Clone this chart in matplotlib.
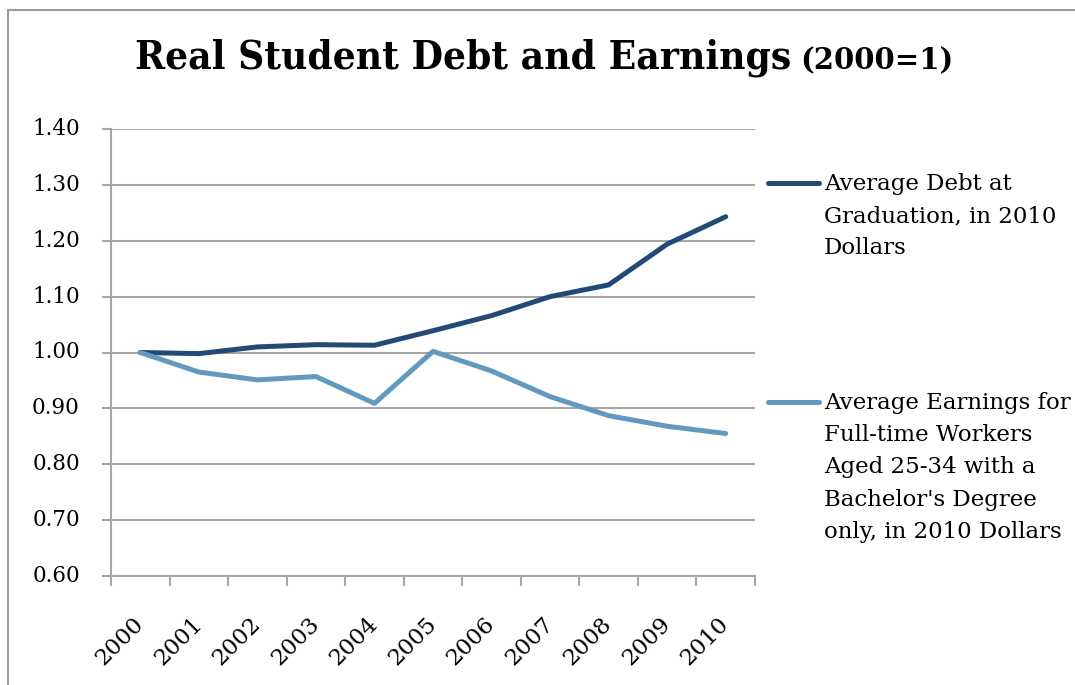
import matplotlib
matplotlib.use("Agg")
import matplotlib.pyplot as plt
from matplotlib.lines import Line2D
from matplotlib.patches import Rectangle

years = ["2000", "2001", "2002", "2003", "2004", "2005", "2006", "2007", "2008", "2009", "2010"]
debt = [1.000, 0.998, 1.010, 1.014, 1.013, 1.039, 1.066, 1.100, 1.121, 1.194, 1.243]
earnings = [1.000, 0.965, 0.951, 0.957, 0.909, 1.002, 0.967, 0.921, 0.887, 0.868, 0.855]
yticks = [0.60, 0.70, 0.80, 0.90, 1.00, 1.10, 1.20, 1.30, 1.40]
debt_label = "Average Debt at\nGraduation, in 2010\nDollars"
earn_label = "Average Earnings for\nFull-time Workers\nAged 25-34 with a\nBachelor's Degree\nonly, in 2010 Dollars"

dark = "#234a77"
light = "#6499bf"
grid = "#a6a6a6"
W, H = 1075, 685

plt.rcParams['font.family'] = ['DejaVu Serif']
fig = plt.figure(figsize=(W / 100, H / 100), dpi=100)
fig.patches.append(Rectangle((8 / W, -0.1), 1.2, 1.1 - 10 / H, transform=fig.transFigure,
                             fill=False, edgecolor="#9a9a9a", linewidth=1.5))

ax = fig.add_axes([111 / W, 1 - 576 / H, (755 - 111) / W, (576 - 129) / H])
x = list(range(len(years)))
ax.plot(x, debt, color=dark, linewidth=3.6, solid_capstyle='round', solid_joinstyle='round', zorder=3)
ax.plot(x, earnings, color=light, linewidth=3.6, solid_capstyle='round', solid_joinstyle='round', zorder=3)

ax.set_xlim(-0.5, len(years) - 0.5)
ax.set_ylim(0.6, 1.4)
ax.set_yticks(yticks)
ax.set_yticklabels([f"{v:.2f}" for v in yticks], fontsize=15.5)
ax.yaxis.grid(True, color=grid, linewidth=1.5)
ax.set_axisbelow(True)
ax.tick_params(axis='y', length=6.5, width=1.5, color=grid, pad=16)
for lab in ax.get_yticklabels():
    lab.set_verticalalignment('center')

ax.set_xticks(x)
ax.set_xticklabels(years, fontsize=16.5, rotation=45, ha='right', rotation_mode='anchor')
ax.set_xticks([i - 0.5 for i in range(len(years) + 1)], minor=True)
ax.tick_params(axis='x', which='major', length=0, pad=32)
ax.tick_params(axis='x', which='minor', length=7, width=1.5, color=grid)
for lab in ax.get_xticklabels():
    lab.set_verticalalignment('center')

for s in ['top', 'right']:
    ax.spines[s].set_visible(False)
for s in ['left', 'bottom']:
    ax.spines[s].set_color(grid)
    ax.spines[s].set_linewidth(1.5)

fig.text(791 / W, 1 - 58 / H, "Real Student Debt and Earnings", ha='right', va='center',
         fontsize=29, fontweight='bold', fontstretch='condensed')
fig.text(800 / W, 1 - 61 / H, "(2000=1)", ha='left', va='center',
         fontsize=21, fontweight='bold')

for ly, lab, col in [(183, debt_label, dark), (402, earn_label, light)]:
    fig.lines.append(Line2D([768 / W, 819 / W], [1 - ly / H, 1 - ly / H], transform=fig.transFigure,
                            color=col, linewidth=3.6, solid_capstyle='round'))
    fig.text(824 / W, 1 - (ly - 10) / H, lab, ha='left', va='top', fontsize=16.5, linespacing=1.6)

fig.savefig("out.png", dpi=100)
